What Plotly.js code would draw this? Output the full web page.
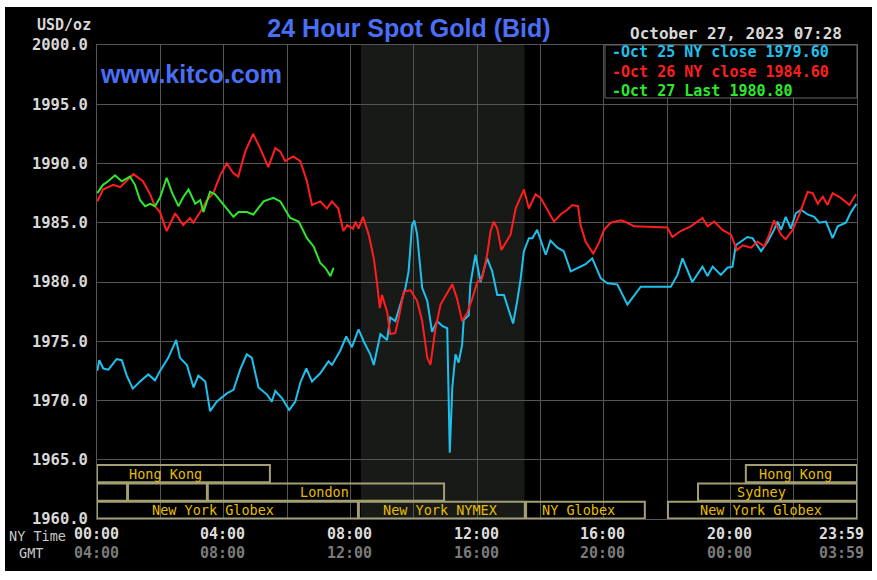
<!DOCTYPE html>
<html>
<head>
<meta charset="utf-8">
<script src="https://cdn.plot.ly/plotly-3.0.1.min.js"></script>
<style>
html,body{margin:0;padding:0;background:#ffffff;}
#chart{position:absolute;left:5px;top:7px;width:867px;height:564px;}
</style>
</head>
<body>
<div id="chart"></div>
<script>
// ---- data (NY time in hours, price USD/oz) ----
const oct25Hours = [0.01,0.07,0.2,0.36,0.62,0.78,0.94,1.13,1.36,1.62,1.83,1.99,2.25,2.5,2.62,2.84,3.05,3.2,3.42,3.57,3.78,4.1,4.31,4.52,4.73,4.89,5.1,5.37,5.52,5.63,5.84,6.07,6.26,6.42,6.61,6.79,7.05,7.31,7.42,7.68,7.87,8.05,8.26,8.42,8.63,8.74,8.95,9.16,9.26,9.42,9.58,9.74,9.84,9.95,10.02,10.11,10.18,10.27,10.43,10.58,10.74,10.9,11.06,11.11,11.14,11.22,11.32,11.42,11.53,11.58,11.74,11.79,11.95,12.11,12.32,12.48,12.64,12.85,13.01,13.14,13.27,13.38,13.48,13.64,13.75,13.9,14.17,14.32,14.54,14.74,14.96,15.22,15.43,15.64,15.91,16.12,16.43,16.75,16.96,17.17,18.12,18.33,18.49,18.65,18.8,19.12,19.28,19.44,19.7,19.91,20.07,20.17,20.33,20.54,20.7,20.97,21.18,21.38,21.49,21.6,21.75,21.91,22.07,22.23,22.44,22.65,22.81,23.02,23.23,23.39,23.65,23.81,23.98];
const oct25Price = [1972.5,1973.4,1972.7,1972.6,1973.5,1973.4,1972.1,1971.0,1971.6,1972.2,1971.7,1972.5,1973.6,1975.1,1973.6,1973.0,1971.1,1972.1,1971.6,1969.1,1969.9,1970.6,1970.9,1972.6,1973.9,1973.6,1971.1,1970.5,1969.9,1970.8,1970.2,1969.2,1969.9,1971.5,1972.7,1971.6,1972.3,1973.3,1973.0,1974.2,1975.4,1974.5,1976.0,1975.0,1973.9,1973.0,1975.6,1975.1,1977.0,1976.7,1978.1,1979.5,1980.9,1984.8,1985.2,1984.0,1982.0,1979.5,1978.4,1975.8,1976.7,1976.3,1976.1,1969.9,1965.6,1971.1,1973.9,1973.2,1974.7,1976.8,1977.2,1979.8,1982.3,1980.0,1982.0,1980.9,1978.9,1978.9,1977.5,1976.5,1978.4,1980.3,1982.6,1983.7,1983.7,1984.4,1982.3,1983.5,1982.9,1982.6,1980.9,1981.2,1981.5,1982.0,1980.3,1979.9,1979.8,1978.1,1978.8,1979.6,1979.6,1980.6,1982.0,1980.9,1980.0,1981.3,1980.5,1981.3,1980.6,1981.2,1981.3,1983.1,1983.4,1983.8,1983.7,1982.6,1983.4,1984.4,1985.1,1984.4,1985.5,1984.5,1985.8,1986.1,1985.7,1985.5,1985.0,1985.1,1983.7,1984.7,1985.0,1985.9,1986.6];

const oct26Hours = [0.01,0.19,0.51,0.73,1.15,1.45,1.68,1.83,1.99,2.2,2.47,2.72,2.94,3.04,3.26,3.47,3.67,3.89,4.1,4.3,4.46,4.68,4.93,5.15,5.41,5.63,5.79,5.94,6.2,6.42,6.63,6.79,7.05,7.26,7.42,7.62,7.78,7.9,8.09,8.16,8.26,8.4,8.58,8.74,8.84,8.93,9.0,9.16,9.26,9.42,9.53,9.69,9.9,10.11,10.27,10.43,10.53,10.69,10.85,11.06,11.22,11.37,11.53,11.69,11.85,12.01,12.16,12.32,12.43,12.53,12.64,12.77,12.9,13.06,13.22,13.48,13.64,13.85,14.01,14.22,14.43,14.64,14.85,15.01,15.19,15.27,15.43,15.67,15.85,16.01,16.22,16.54,16.75,16.96,18.01,18.17,18.43,18.75,19.12,19.28,19.49,19.75,20.02,20.21,20.39,20.65,20.86,21.07,21.23,21.38,21.6,21.75,21.97,22.18,22.44,22.6,22.76,22.92,23.07,23.23,23.49,23.76,23.97];
const oct26Price = [1986.8,1987.8,1988.2,1988.0,1989.1,1988.5,1987.4,1986.4,1985.9,1984.3,1985.8,1984.8,1985.4,1985.0,1985.9,1986.9,1987.5,1989.0,1990.0,1989.2,1988.9,1991.0,1992.5,1991.3,1989.7,1991.3,1991.0,1990.2,1990.6,1990.2,1988.5,1986.5,1986.8,1986.2,1986.8,1986.2,1984.3,1984.8,1984.5,1985.1,1984.5,1985.5,1984.0,1982.0,1980.0,1977.8,1978.9,1977.5,1975.6,1975.7,1977.0,1979.2,1979.3,1978.4,1976.7,1973.6,1973.0,1976.1,1978.1,1979.1,1979.8,1978.6,1976.7,1977.4,1978.6,1980.0,1980.3,1982.3,1984.3,1985.1,1984.5,1982.7,1983.3,1984.0,1986.2,1987.8,1986.2,1987.4,1987.1,1986.1,1985.1,1985.7,1986.1,1986.5,1986.4,1984.8,1983.4,1982.4,1983.3,1984.4,1985.0,1985.2,1985.0,1984.7,1984.6,1983.8,1984.3,1984.7,1985.4,1984.7,1985.1,1984.4,1984.0,1982.7,1983.1,1982.9,1983.4,1983.0,1984.0,1985.2,1984.0,1983.6,1984.4,1985.7,1987.6,1987.5,1986.6,1987.2,1986.5,1987.5,1987.1,1986.5,1987.4];

const oct27Hours = [0.01,0.19,0.35,0.57,0.78,1.04,1.2,1.36,1.52,1.68,1.83,1.99,2.2,2.36,2.57,2.73,2.89,3.1,3.26,3.36,3.57,3.73,4.0,4.31,4.47,4.73,4.94,5.26,5.57,5.79,6.1,6.37,6.63,6.84,7.05,7.21,7.37,7.47];
const oct27Price = [1987.5,1988.2,1988.5,1989.0,1988.5,1988.9,1988.2,1986.9,1986.4,1986.6,1986.4,1987.1,1988.8,1987.6,1986.4,1987.2,1987.8,1986.6,1986.9,1985.9,1987.6,1987.4,1986.5,1985.5,1985.9,1985.9,1985.7,1986.8,1987.1,1986.8,1985.4,1985.1,1983.7,1983.0,1981.6,1981.2,1980.5,1981.2];

const legendLabels = ["-Oct 25 NY close 1979.60","-Oct 26 NY close 1984.60","-Oct 27 Last 1980.80"];
const nyTimeLabels = ["00:00","04:00","08:00","12:00","16:00","20:00","23:59"];
const gmtLabels = ["04:00","08:00","12:00","16:00","20:00","00:00","03:59"];
const labelHours = [0,4,8,12,16,20,24];

// sessions
const sessionNames = ["Hong Kong","","","London","New York Globex","New York NYMEX","NY Globex","New York Globex","Sydney","Hong Kong"];
const sessionStart = [0,0,0.98,3.5,0,8.27,13.55,18.03,18.98,20.49];
const sessionEnd   = [5.46,0.95,3.47,10.96,8.24,13.51,17.3,24,24,24];
const sessionRow   = [1,2,2,2,3,3,3,3,2,1];
const sessionLabelAt = [2.15,0,0,7.17,3.66,10.83,15.19,20.97,20.97,22.07];

// ---- geometry helpers (page pixels -> paper fraction) ----
const X0=97, X1=857, Y0=45, Y1=519;
const px = v => (v - X0) / (X1 - X0);
const py = v => (Y1 - v) / (Y1 - Y0);

const MONO = "DejaVu Sans Mono, monospace";
const CYAN = "#1ec0ee", RED = "#ff1e1e", GREEN = "#2ee82e";

const traces = [
  {x: oct25Hours, y: oct25Price, mode: "lines", line: {color: CYAN, width: 2}},
  {x: oct26Hours, y: oct26Price, mode: "lines", line: {color: RED, width: 2}},
  {x: oct27Hours, y: oct27Price, mode: "lines", line: {color: GREEN, width: 2}}
];

const rowBounds = {1: [1963.1, 1964.55], 2: [1961.55, 1963.0], 3: [1960.05, 1961.45]};

const shapes = [
  {type: "rect", xref: "x", yref: "paper", x0: 8.333, x1: 13.5, y0: 0, y1: 1,
   fillcolor: "#181a18", line: {width: 0}, layer: "below"},
  {type: "rect", xref: "paper", yref: "paper", x0: px(605), x1: px(857), y0: py(98), y1: py(45),
   fillcolor: "#000000", line: {color: "#666666", width: 1}, layer: "above"}
];
const annotations = [];

for (let i = 0; i < sessionNames.length; i++) {
  const b = rowBounds[sessionRow[i]];
  shapes.push({type: "rect", xref: "x", yref: "y", x0: sessionStart[i], x1: sessionEnd[i], y0: b[0], y1: b[1],
    fillcolor: "rgba(0,0,0,0)", line: {color: "#a39f72", width: 2}, layer: "above"});
  if (sessionNames[i]) {
    annotations.push({xref: "x", yref: "y", x: sessionLabelAt[i], y: (b[0] + b[1]) / 2, text: sessionNames[i],
      showarrow: false, xanchor: "center", yanchor: "middle", borderpad: 0,
      font: {family: MONO, size: 13.5, color: "#e6bd00"}});
  }
}

// x labels (NY time / GMT)
for (let i = 0; i < labelHours.length; i++) {
  const last = i === labelHours.length - 1;
  annotations.push({xref: "x", yref: "paper", x: labelHours[i], y: py(534), text: nyTimeLabels[i],
    showarrow: false, xanchor: last ? "right" : "center", yanchor: "middle", xshift: last ? 8 : -1, borderpad: 0,
    font: {family: MONO, size: 15, color: "#dcdcdc", weight: "bold"}});
  annotations.push({xref: "x", yref: "paper", x: labelHours[i], y: py(553), text: gmtLabels[i],
    showarrow: false, xanchor: last ? "right" : "center", yanchor: "middle", xshift: last ? 8 : -1, borderpad: 0,
    font: {family: MONO, size: 15, color: "#7a7a7a", weight: "bold"}});
}
annotations.push({xref: "paper", yref: "paper", x: px(67), y: py(536), text: "NY Time", showarrow: false,
  xanchor: "right", yanchor: "middle", borderpad: 0, font: {family: MONO, size: 13.5, color: "#c8c8c8"}});
annotations.push({xref: "paper", yref: "paper", x: px(44), y: py(553), text: "GMT", showarrow: false,
  xanchor: "right", yanchor: "middle", borderpad: 0, font: {family: MONO, size: 13.5, color: "#c8c8c8"}});

annotations.push({xref: "paper", yref: "paper", x: px(92), y: py(25), text: "USD/oz", showarrow: false,
  xanchor: "right", yanchor: "middle", borderpad: 0, font: {family: MONO, size: 15, color: "#d8d8d8", weight: "bold"}});
annotations.push({xref: "paper", yref: "paper", x: px(843), y: py(33), text: "October 27, 2023 07:28", showarrow: false,
  xanchor: "right", yanchor: "middle", borderpad: 0, font: {family: MONO, size: 16, color: "#d8d8d8", weight: "bold"}});

// legend as one multi-line text block
const legColors = [CYAN, RED, GREEN];
const legendText = legendLabels.map((t, i) => '<span style="color:' + legColors[i] + '">' + t + '</span>').join('<br>');
annotations.push({xref: "paper", yref: "paper", x: px(611), y: py(71), text: legendText, showarrow: false,
  xanchor: "left", yanchor: "middle", align: "left", borderpad: 0,
  font: {family: MONO, size: 15, color: CYAN, weight: "bold"}});

annotations.push({xref: "paper", yref: "paper", x: px(99), y: py(74), text: "www.kitco.com", showarrow: false,
  xanchor: "left", yanchor: "middle", borderpad: 0,
  font: {family: "Liberation Sans, Arial, sans-serif", size: 25, color: "#4a6ff5", weight: "bold"}});

const layout = {
  width: 867, height: 564,
  margin: {l: X0 - 5, r: 867 - (X1 - 5), t: Y0 - 7, b: 564 - (Y1 - 7)},
  paper_bgcolor: "#000000", plot_bgcolor: "#000000",
  showlegend: false,
  title: {text: "24 Hour Spot Gold (Bid)", x: (409 - 5) / 867, xanchor: "center", y: 1 - (28 - 7) / 564, yanchor: "middle",
    font: {family: "Liberation Sans, Arial, sans-serif", size: 25, color: "#4a6ff5", weight: "bold"}},
  xaxis: {range: [0, 24], dtick: 2, tick0: 0, showticklabels: false, showgrid: true, gridcolor: "#555555", gridwidth: 1,
    zeroline: false, showline: true, linecolor: "#555555", mirror: true, ticks: ""},
  yaxis: {range: [1960, 2000], dtick: 5, tick0: 1960, tickformat: ".1f", showgrid: true, gridcolor: "#555555", gridwidth: 1,
    zeroline: false, showline: true, linecolor: "#555555", mirror: true, ticks: "", ticklabelstandoff: 5,
    tickfont: {family: MONO, size: 15.5, color: "#d8d8d8", weight: "bold"}},
  shapes: shapes,
  annotations: annotations,
  hovermode: false
};

Plotly.newPlot("chart", traces, layout, {staticPlot: true, displayModeBar: false});
</script>
</body>
</html>
